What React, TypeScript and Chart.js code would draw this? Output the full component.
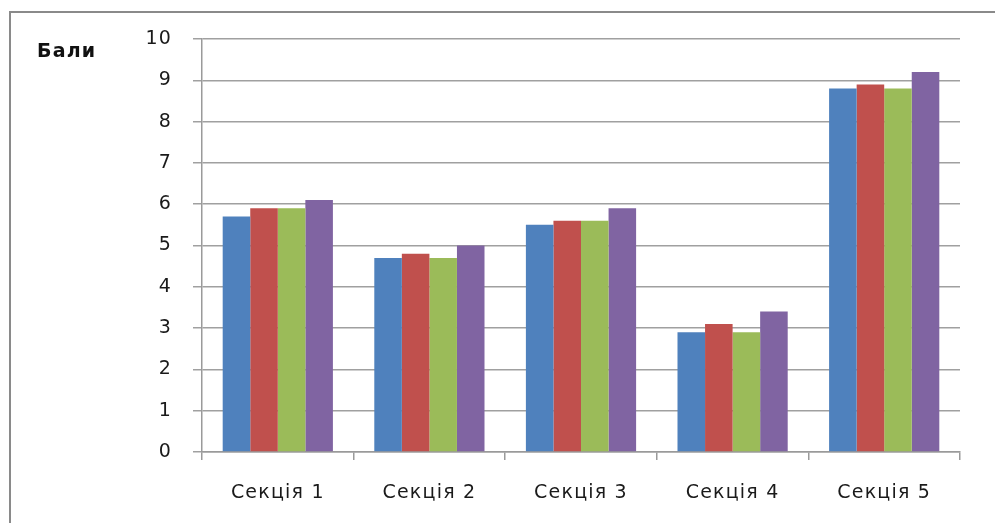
import React, { useEffect, useRef } from "react";
import { Chart, registerables } from "chart.js";

Chart.register(...registerables);

const categories = ["Секція 1", "Секція 2", "Секція 3", "Секція 4", "Секція 5"];
const series1 = [5.7, 4.7, 5.5, 2.9, 8.8];
const series2 = [5.9, 4.8, 5.6, 3.1, 8.9];
const series3 = [5.9, 4.7, 5.6, 2.9, 8.8];
const series4 = [6.1, 5.0, 5.9, 3.4, 9.2];
const seriesNames = ["Ряд 1", "Ряд 2", "Ряд 3", "Ряд 4"];
const seriesColors = ["#4F81BD", "#C0504D", "#9BBB59", "#8064A2"];
const yTitle = "Бали";
const yMin = 0;
const yMax = 10;
const yStep = 1;

const FONT = "'DejaVu Sans', sans-serif";

export default function App() {
  const ref = useRef<HTMLCanvasElement | null>(null);

  useEffect(() => {
    if (!ref.current) return;
    const allSeries = [series1, series2, series3, series4];
    const spacingPlugin = {
      id: "spacing",
      beforeDraw(chart: any) {
        (chart.ctx as any).letterSpacing = "1.2px";
      },
      afterDraw(chart: any) {
        const ctx = chart.ctx;
        ctx.save();
        ctx.font = `bold 19px ${FONT}`;
        ctx.fillStyle = "#111";
        ctx.textAlign = "left";
        ctx.textBaseline = "middle";
        ctx.fillText(yTitle, 37, 52);
        ctx.restore();
      },
    };
    const chart = new Chart(ref.current, {
      type: "bar",
      data: {
        labels: categories,
        datasets: allSeries.map((d, i) => ({
          label: seriesNames[i],
          data: d,
          backgroundColor: seriesColors[i],
          borderWidth: 0,
          categoryPercentage: 0.727,
          barPercentage: 1.0,
        })),
      },
      options: {
        responsive: false,
        animation: false,
        layout: { padding: { top: 39, right: 35, bottom: 0, left: 0 } },
        plugins: {
          legend: { display: false },
          tooltip: { enabled: false },
          title: { display: false },
        },
        scales: {
          x: {
            grid: {
              offset: true,
              drawOnChartArea: false,
              drawTicks: true,
              tickLength: 8,
              color: "#9a9a9a",
              lineWidth: 1.5,
            },
            border: { color: "#9a9a9a", width: 1.5 },
            ticks: {
              font: { family: FONT, size: 19 },
              color: "#1a1a1a",
              padding: 22,
              maxRotation: 0,
            },
            afterFit: (s: any) => {
              s.height = 71;
            },
          },
          y: {
            min: yMin,
            max: yMax,
            ticks: {
              stepSize: yStep,
              font: { family: FONT, size: 19 },
              color: "#1a1a1a",
              padding: 21,
            },
            grid: {
              color: "#a0a0a0",
              lineWidth: 1.5,
              tickLength: 9,
              drawTicks: true,
            },
            border: { color: "#9a9a9a", width: 1.5 },
            afterFit: (s: any) => {
              s.width = 202;
            },
          },
        },
      },
      plugins: [spacingPlugin],
    });
    return () => chart.destroy();
  }, []);

  return (
    <div
      style={{
        position: "absolute",
        left: 0,
        top: 0,
        width: 995,
        height: 523,
        overflow: "hidden",
        background: "#fff",
      }}
    >
      <div
        style={{
          position: "absolute",
          left: 9,
          top: 11,
          width: 1100,
          height: 700,
          border: "2px solid #8a8a8a",
        }}
      />
      <canvas
        ref={ref}
        width={995}
        height={523}
        style={{ position: "absolute", left: 0, top: 0, width: 995, height: 523 }}
      />
    </div>
  );
}
